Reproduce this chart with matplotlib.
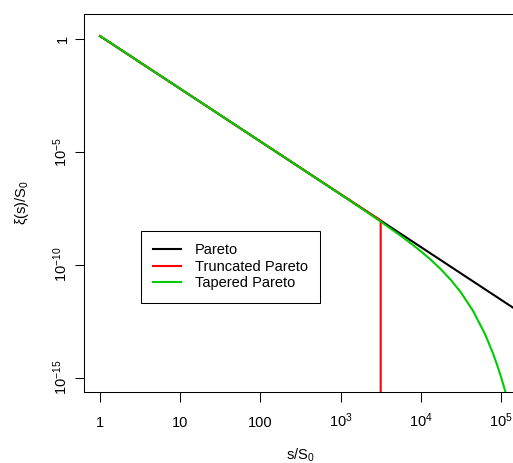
import matplotlib
matplotlib.use("Agg")
import matplotlib.pyplot as plt

# values (log-log axes)
s_pareto = [1, 1.6e5]
xi_pareto = [1.33, 9.5e-13]

s_trunc = [1, 3162, 3162]
xi_trunc = [1.33, 9.1e-9, 1e-20]

s_taper = [1, 10, 100, 1e3, 1778, 3162, 5623, 7499, 1e4, 13335, 17783,
           23714, 31623, 44668, 63096, 79433, 89125, 1e5, 112202, 125893]
xi_taper = [1.33, 6.19e-3, 2.87e-5, 1.30e-7, 3.30e-8, 8.19e-9, 1.92e-9,
            8.94e-10, 3.99e-10, 1.67e-10, 6.37e-11, 2.14e-11, 6.02e-12,
            9.41e-13, 8.77e-14, 1.22e-14, 3.89e-15, 1.11e-15, 2.77e-16, 5.97e-17]

x_ticks = [1, 10, 100, 1e3, 1e4, 1e5]
x_labels = ["1", "10", "100", r"$\mathregular{10^{3}}$",
            r"$\mathregular{10^{4}}$", r"$\mathregular{10^{5}}$"]
y_ticks = [1, 1e-5, 1e-10, 1e-15]
y_labels = ["1", r"$\mathregular{10^{-5}}$", r"$\mathregular{10^{-10}}$",
            r"$\mathregular{10^{-15}}$"]

plt.rcParams["font.family"] = ["Liberation Sans", "DejaVu Sans"]
plt.rcParams["mathtext.fontset"] = "custom"
plt.rcParams["mathtext.rm"] = "Liberation Sans"
plt.rcParams["mathtext.it"] = "Liberation Sans:italic"
plt.rcParams["font.size"] = 10.5

fig = plt.figure(figsize=(5.13, 4.63), dpi=100)
ax = fig.add_axes([84 / 513, 71 / 463, 433 / 513, 378 / 463])

ax.plot(s_pareto, xi_pareto, color="black", lw=1.5, label="Pareto")
ax.plot(s_trunc, xi_trunc, color="#FF0000", lw=1.5, label="Truncated Pareto")
ax.plot(s_taper, xi_taper, color="#00CD00", lw=1.5, label="Tapered Pareto")

ax.set_xscale("log")
ax.set_yscale("log")
ax.set_xlim(10 ** -0.2, 10 ** 5.2)
ax.set_ylim(10 ** -15.63, 10 ** 1.1)

ax.minorticks_off()
ax.set_xticks(x_ticks, labels=x_labels, va="baseline")
ax.set_yticks(y_ticks, labels=y_labels, rotation=90, va="center")
ax.tick_params(axis="x", direction="out", length=7, width=0.75, pad=18)
ax.tick_params(axis="y", direction="out", length=6.5, width=0.75, pad=3.5)
for side in ["left", "bottom", "top"]:
    ax.spines[side].set_linewidth(0.75)
ax.spines["right"].set_visible(False)

ax.set_xlabel(r"s/S$_0$")
ax.xaxis.set_label_coords(0.5, -0.145)
ax.set_ylabel(r"ξ(s)/S$_0$")
ax.yaxis.set_label_coords(-0.122, 0.5)

leg = ax.legend(loc="upper left", bbox_to_anchor=(57 / 433, 161 / 378),
                borderaxespad=0, fancybox=False, edgecolor="black",
                framealpha=1, handlelength=1.9, handletextpad=0.95,
                labelspacing=0.17, borderpad=0.85)
leg.get_frame().set_linewidth(0.75)

fig.savefig("out.png", dpi=100)
